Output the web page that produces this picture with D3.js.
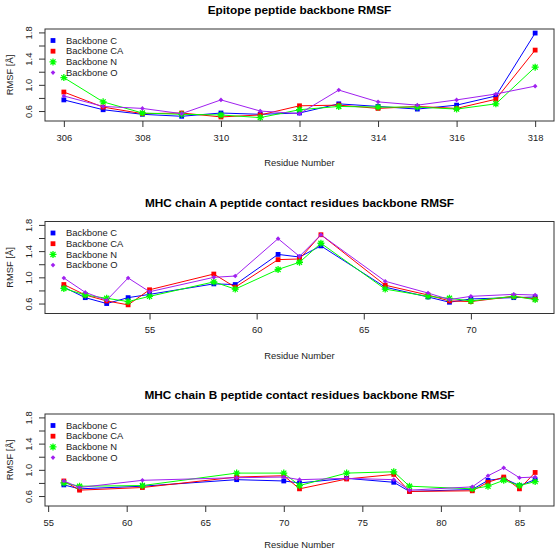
<!DOCTYPE html>
<html>
<head>
<meta charset="utf-8">
<script src="https://cdn.jsdelivr.net/npm/d3@7/dist/d3.min.js"></script>
<style>
  html, body { margin: 0; padding: 0; background: #fff; }
  svg { display: block; font-family: "Liberation Sans", Arial, Helvetica, sans-serif; }
</style>
</head>
<body>
<svg id="chart" width="558" height="550"></svg>
<script>
// ---------- Data ----------
const seriesNames = ["Backbone C", "Backbone CA", "Backbone N", "Backbone O"];
const seriesColors = ["#0000FF", "#FF0000", "#00FF00", "#A020F0"];

const panelTitles = [
  "Epitope peptide backbone RMSF",
  "MHC chain A peptide contact residues backbone RMSF",
  "MHC chain B peptide contact residues backbone RMSF"
];

// Panel 1: epitope peptide
const epiResidues = [306, 307, 308, 309, 310, 311, 312, 313, 314, 315, 316, 317, 318];
const epiC  = [0.77, 0.62, 0.55, 0.52, 0.57, 0.55, 0.57, 0.71, 0.67, 0.63, 0.69, 0.83, 1.79];
const epiCA = [0.89, 0.66, 0.56, 0.57, 0.51, 0.54, 0.68, 0.69, 0.64, 0.67, 0.64, 0.78, 1.53];
const epiN  = [1.11, 0.74, 0.57, 0.55, 0.54, 0.50, 0.62, 0.67, 0.66, 0.66, 0.63, 0.71, 1.27];
const epiO  = [0.83, 0.67, 0.64, 0.56, 0.77, 0.60, 0.56, 0.92, 0.74, 0.69, 0.77, 0.86, 0.98];
const epiTicks = [306, 308, 310, 312, 314, 316, 318];

// Panel 2: MHC chain A
const chainAResidues = [51, 52, 53, 54, 55, 58, 59, 61, 62, 63, 66, 68, 69, 70, 72, 73];
const chainAC  = [0.85, 0.69, 0.60, 0.69, 0.74, 0.90, 0.89, 1.35, 1.31, 1.48, 0.85, 0.70, 0.62, 0.67, 0.69, 0.70];
const chainACA = [0.89, 0.73, 0.64, 0.58, 0.81, 1.05, 0.85, 1.27, 1.28, 1.65, 0.88, 0.73, 0.64, 0.63, 0.71, 0.67];
const chainAN  = [0.83, 0.73, 0.68, 0.63, 0.71, 0.93, 0.82, 1.12, 1.23, 1.52, 0.82, 0.71, 0.68, 0.64, 0.71, 0.66];
const chainAO  = [0.99, 0.77, 0.65, 0.99, 0.78, 1.00, 1.02, 1.59, 1.32, 1.65, 0.94, 0.76, 0.66, 0.71, 0.74, 0.73];
const chainATicks = [55, 60, 65, 70];

// Panel 3: MHC chain B
const chainBResidues = [56, 57, 61, 67, 70, 71, 74, 77, 78, 82, 83, 84, 85, 86];
const chainBC  = [0.77, 0.71, 0.75, 0.85, 0.83, 0.80, 0.87, 0.81, 0.67, 0.70, 0.84, 0.87, 0.76, 0.85];
const chainBCA = [0.83, 0.69, 0.73, 0.89, 0.91, 0.71, 0.86, 0.93, 0.67, 0.68, 0.81, 0.89, 0.71, 0.96];
const chainBN  = [0.80, 0.75, 0.76, 0.95, 0.95, 0.76, 0.95, 0.97, 0.75, 0.71, 0.75, 0.84, 0.76, 0.82];
const chainBO  = [0.83, 0.73, 0.84, 0.88, 0.89, 0.85, 0.87, 0.85, 0.69, 0.74, 0.91, 1.03, 0.88, 0.89];
const chainBTicks = [55, 60, 65, 70, 75, 80, 85];

const yTicks = [0.6, 0.8, 1.0, 1.2, 1.4, 1.6, 1.8];
const yLabelled = [0.6, 1.0, 1.4, 1.8];
const yLimits = [0.5, 1.8];

const panels = [
  { title: panelTitles[0], residues: epiResidues, series: [epiC, epiCA, epiN, epiO], ticks: epiTicks },
  { title: panelTitles[1], residues: chainAResidues, series: [chainAC, chainACA, chainAN, chainAO], ticks: chainATicks },
  { title: panelTitles[2], residues: chainBResidues, series: [chainBC, chainBCA, chainBN, chainBO], ticks: chainBTicks }
];

// ---------- Layout ----------
const svg = d3.select("#chart");
const plotLeft = 45, plotRight = 554;
const boxTops = [29, 221.5, 414];
const boxH = 92;
const fs = 9.4;

function expand(lo, hi) { const r = hi - lo; return [lo - 0.04 * r, hi + 0.04 * r]; }

function drawMarker(g, type, cx, cy, color) {
  if (type === 0 || type === 1) {
    g.append("rect").attr("x", cx - 2.4).attr("y", cy - 2.4).attr("width", 4.8).attr("height", 4.8)
      .attr("fill", color);
  } else if (type === 2) {
    const r = 3.5, d = r * 0.72;
    const p = `M${cx - r},${cy}L${cx + r},${cy}M${cx},${cy - r}L${cx},${cy + r}` +
              `M${cx - d},${cy - d}L${cx + d},${cy + d}M${cx - d},${cy + d}L${cx + d},${cy - d}`;
    g.append("path").attr("d", p).attr("stroke", color).attr("stroke-width", 1.3).attr("fill", "none");
  } else {
    const r = 2.3;
    g.append("path").attr("d", `M${cx},${cy - r}L${cx + r},${cy}L${cx},${cy + r}L${cx - r},${cy}Z`)
      .attr("fill", color);
  }
}

panels.forEach((p, i) => {
  const top = boxTops[i], bottom = top + boxH;
  const x = d3.scaleLinear().domain(expand(d3.min(p.residues), d3.max(p.residues))).range([plotLeft, plotRight]);
  const y = d3.scaleLinear().domain(expand(yLimits[0], yLimits[1])).range([bottom, top]);
  const g = svg.append("g");

  // title
  g.append("text").attr("x", (plotLeft + plotRight) / 2).attr("y", top - 15)
    .attr("text-anchor", "middle").attr("font-weight", "bold").attr("font-size", 11.8)
    .text(p.title);

  // series lines + markers
  p.series.forEach((vals, si) => {
    const pts = p.residues.map((r, k) => [x(r), y(vals[k])]);
    g.append("path").attr("d", d3.line()(pts)).attr("fill", "none")
      .attr("stroke", seriesColors[si]).attr("stroke-width", 1);
    pts.forEach(([cx, cy]) => drawMarker(g, si, cx, cy, seriesColors[si]));
  });

  // box
  g.append("rect").attr("x", plotLeft).attr("y", top).attr("width", plotRight - plotLeft).attr("height", boxH)
    .attr("fill", "none").attr("stroke", "#333").attr("stroke-width", 1);

  // x axis
  const xa = g.append("g").attr("transform", `translate(0,${bottom})`)
    .call(d3.axisBottom(x).tickValues(p.ticks).tickSize(6).tickSizeOuter(0).tickPadding(7).tickFormat(d3.format("d")));
  xa.select(".domain").remove();
  xa.selectAll("line").attr("stroke", "#333");
  xa.selectAll("text").attr("font-size", fs).attr("fill", "#222").attr("font-family", null);

  // y axis
  const ya = g.append("g").attr("transform", `translate(${plotLeft},0)`)
    .call(d3.axisLeft(y).tickValues(yTicks).tickSize(6).tickSizeOuter(0)
      .tickFormat(v => yLabelled.some(l => Math.abs(l - v) < 1e-6) ? d3.format(".1f")(v) : ""));
  ya.select(".domain").remove();
  ya.selectAll("line").attr("stroke", "#333");
  ya.selectAll("text").attr("font-size", fs).attr("fill", "#222").attr("font-family", null)
    .attr("text-anchor", "middle").attr("x", 0).attr("dy", 0)
    .attr("transform", "translate(-13,0) rotate(-90)");

  // y label
  g.append("text").attr("transform", `translate(13,${(top + bottom) / 2}) rotate(-90)`)
    .attr("text-anchor", "middle").attr("font-size", fs).attr("fill", "#222").text("RMSF [Å]");

  // x label
  g.append("text").attr("x", (plotLeft + plotRight) / 2).attr("y", Math.min(bottom + 45, 548))
    .attr("text-anchor", "middle").attr("font-size", fs).attr("fill", "#222").text("Residue Number");

  // legend
  seriesNames.forEach((name, si) => {
    const ly = top + 11.5 + si * 10.7;
    drawMarker(g, si, 53, ly, seriesColors[si]);
    g.append("text").attr("x", 66).attr("y", ly).attr("dy", "0.35em")
      .attr("font-size", fs).attr("fill", "#222").text(name);
  });
});
</script>
</body>
</html>
